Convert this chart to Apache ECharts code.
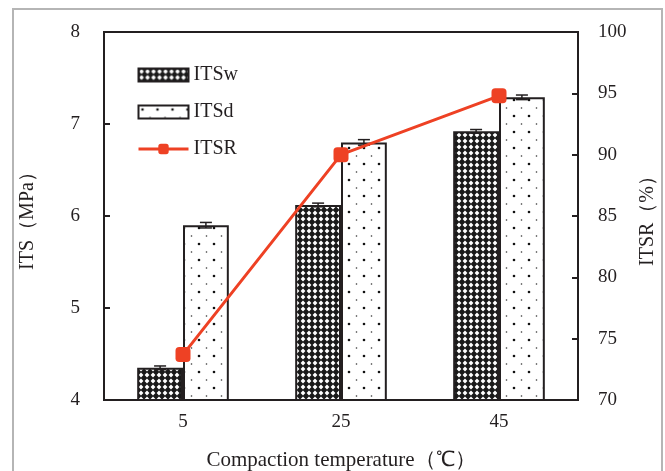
<!DOCTYPE html>
<html>
<head>
<meta charset="utf-8">
<script src="https://cdn.jsdelivr.net/npm/echarts@6/dist/echarts.min.js"></script>
<style>
  html, body { margin: 0; padding: 0; background: #fff; }
  #chart { width: 665px; height: 471px; }
</style>
</head>
<body>
<div id="chart"></div>
<script>
const temps = ["5", "25", "45"];
const itsW = [4.35, 6.12, 6.92];
const itsD = [5.90, 6.80, 7.29];
const errW = [0.02, 0.02, 0.02];
const errD = [0.03, 0.03, 0.025];
const itsr = [73.7, 90.0, 94.8];

const FONT = "Liberation Serif";
const INK = "#231f20";
const RED = "#ee4124";

// 网纹 (ITSw) pattern
function crossPattern() {
  const c = document.createElement("canvas");
  c.width = 6; c.height = 6;
  const g = c.getContext("2d");
  g.fillStyle = "#1a1a1a";
  g.fillRect(0, 0, 6, 6);
  g.fillStyle = "#fff";
  g.beginPath();
  g.moveTo(3, 0.6); g.lineTo(5.4, 3); g.lineTo(3, 5.4); g.lineTo(0.6, 3);
  g.closePath();
  g.fill();
  return c;
}

// 点 (ITSd) pattern
function dotPattern() {
  const c = document.createElement("canvas");
  c.width = 15; c.height = 16;
  const g = c.getContext("2d");
  g.fillStyle = "#fff";
  g.fillRect(0, 0, 15, 16);
  g.fillStyle = "#111";
  g.beginPath(); g.arc(4, 4, 1.3, 0, Math.PI * 2); g.fill();
  g.fillStyle = "#333";
  g.beginPath(); g.arc(11.5, 12, 0.8, 0, Math.PI * 2); g.fill();
  return c;
}

const chart = echarts.init(document.getElementById("chart"));
const BAR_W = 0.29;

function errorSeries(name, vals, errs, side) {
  return {
    type: "custom",
    name: name + "_err",
    yAxisIndex: 0,
    z: 5,
    silent: true,
    data: vals.map((v, i) => [i, v - errs[i], v + errs[i]]),
    renderItem: (params, api) => {
      const band = api.size([1, 0])[0];
      const off = side * band * BAR_W / 2;
      const lo = api.coord([api.value(0), api.value(1)]);
      const hi = api.coord([api.value(0), api.value(2)]);
      const x = lo[0] + off;
      const cap = 6;
      const style = { stroke: INK, lineWidth: 1.5 };
      return {
        type: "group",
        children: [
          { type: "line", shape: { x1: x, y1: lo[1], x2: x, y2: hi[1] }, style },
          { type: "line", shape: { x1: x - cap, y1: lo[1], x2: x + cap, y2: lo[1] }, style },
          { type: "line", shape: { x1: x - cap, y1: hi[1], x2: x + cap, y2: hi[1] }, style }
        ]
      };
    }
  };
}

chart.setOption({
  animation: false,
  textStyle: { fontFamily: FONT },
  graphic: [{
    type: "rect",
    shape: { x: 13, y: 9, width: 649, height: 470 },
    style: { fill: "none", stroke: "#b5b5b5", lineWidth: 2 },
    silent: true
  }],
  grid: {
    left: 104, right: 87, top: 32, bottom: 71,
    outerBoundsMode: "none",
    show: true, borderColor: INK, borderWidth: 2
  },
  legend: {
    orient: "vertical",
    left: 132,
    top: 60,
    itemWidth: 50,
    itemHeight: 13,
    itemGap: 17,
    textStyle: { fontFamily: FONT, fontSize: 20, color: INK },
    data: [
      { name: "ITSw", icon: "rect" },
      { name: "ITSd", icon: "rect" },
      { name: "ITSR", lineStyle: { width: 3, color: RED } }
    ]
  },
  xAxis: {
    type: "category",
    data: temps,
    name: "Compaction temperature（℃）",
    nameLocation: "middle",
    nameGap: 50,
    nameTextStyle: { fontFamily: FONT, fontSize: 21, color: INK },
    axisLine: { lineStyle: { color: INK, width: 2 } },
    axisTick: { inside: true, length: 6, lineStyle: { color: INK, width: 2 } },
    axisLabel: { fontSize: 19, color: INK, margin: 13 }
  },
  yAxis: [{
    type: "value",
    min: 4, max: 8, interval: 1,
    name: "ITS（MPa）",
    nameLocation: "middle",
    nameGap: 66,
    nameTextStyle: { fontFamily: FONT, fontSize: 20, color: INK },
    axisLine: { show: true, lineStyle: { color: INK, width: 2 } },
    axisTick: { show: true, inside: true, length: 6, lineStyle: { color: INK, width: 2 } },
    axisLabel: { fontSize: 19, color: INK, margin: 24 },
    splitLine: { show: false }
  }, {
    type: "value",
    min: 70, max: 100, interval: 5,
    name: "ITSR（%）",
    nameLocation: "middle",
    nameGap: 60,
    nameTextStyle: { fontFamily: FONT, fontSize: 20, color: INK },
    axisLine: { show: true, lineStyle: { color: INK, width: 2 } },
    axisTick: { show: true, inside: true, length: 6, lineStyle: { color: INK, width: 2 } },
    axisLabel: { fontSize: 19, color: INK, margin: 20 },
    splitLine: { show: false }
  }],
  series: [
    {
      name: "ITSw",
      type: "bar",
      data: itsW,
      barWidth: "29%",
      barGap: "0%",
      itemStyle: { color: { image: crossPattern(), repeat: "repeat" }, borderColor: INK, borderWidth: 2 }
    },
    {
      name: "ITSd",
      type: "bar",
      data: itsD,
      barWidth: "29%",
      barGap: "0%",
      itemStyle: { color: { image: dotPattern(), repeat: "repeat" }, borderColor: INK, borderWidth: 2 }
    },
    errorSeries("ITSw", itsW, errW, -1),
    errorSeries("ITSd", itsD, errD, 1),
    {
      name: "ITSR",
      type: "line",
      yAxisIndex: 1,
      data: itsr,
      z: 10,
      symbol: "roundRect",
      symbolSize: 15,
      lineStyle: { color: RED, width: 3 },
      itemStyle: { color: RED }
    }
  ]
});
</script>
</body>
</html>
